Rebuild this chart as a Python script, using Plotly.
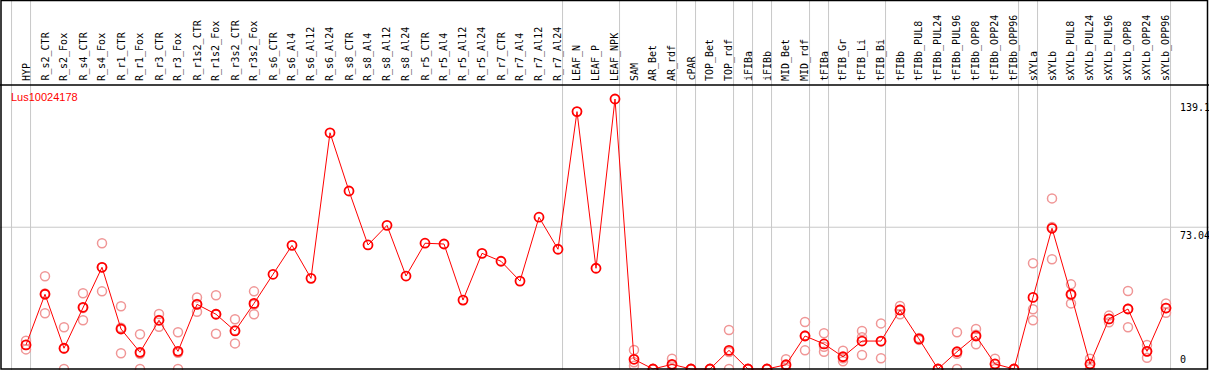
import plotly.graph_objects as go

W, H = 1209, 370

categories = [
    "HYP", "R_s2_CTR", "R_s2_Fox", "R_s4_CTR", "R_s4_Fox", "R_r1_CTR", "R_r1_Fox",
    "R_r3_CTR", "R_r3_Fox", "R_r1s2_CTR", "R_r1s2_Fox", "R_r3s2_CTR", "R_r3s2_Fox",
    "R_s6_CTR", "R_s6_Al4", "R_s6_Al12", "R_s6_Al24", "R_s8_CTR", "R_s8_Al4",
    "R_s8_Al12", "R_s8_Al24", "R_r5_CTR", "R_r5_Al4", "R_r5_Al12", "R_r5_Al24",
    "R_r7_CTR", "R_r7_Al4", "R_r7_Al12", "R_r7_Al24", "LEAF_N", "LEAF_P", "LEAF_NPK",
    "SAM", "AR_Bet", "AR_rdf", "cPAR", "TOP_Bet", "TOP_rdf", "iFIBa", "iFIBb",
    "MID_Bet", "MID_rdf", "tFIBa", "tFIB_Gr", "tFIB_Li", "tFIB_Bi", "tFIBb",
    "tFIBb_PUL8", "tFIBb_PUL24", "tFIBb_PUL96", "tFIBb_OPP8", "tFIBb_OPP24",
    "tFIBb_OPP96", "sXYLa", "sXYLb", "sXYLb_PUL8", "sXYLb_PUL24", "sXYLb_PUL96",
    "sXYLb_OPP8", "sXYLb_OPP24", "sXYLb_OPP96",
]

mean_values = [
    12.4, 38.5, 10.7, 31.8, 52.4, 20.6, 8.6, 25.1, 9.1, 33.3, 28.2, 19.6, 33.8,
    48.8, 63.7, 46.7, 121.7, 91.7, 63.9, 74.0, 47.9, 64.8, 64.4, 35.5, 59.6,
    55.5, 45.3, 78.2, 61.7, 132.6, 51.9, 139.1,
    5.0, 0.0, 2.4, 0.0, 0.0, 9.6, 0.0, 0.0, 2.2, 17.0, 12.9, 6.3, 14.4, 14.4,
    30.4, 15.5, 0.0, 8.9, 17.0, 2.6, 0.0, 36.9, 72.5, 38.5, 2.6, 25.8, 30.9,
    9.1, 31.4,
]

N = None
rep1 = [14.6, 47.8, 21.5, 39.0, 64.8, 32.3, 17.9, 28.3, 18.9, 36.9, 38.0, 25.6, 40.0,
        N, N, N, N, N, N, N, N, N, N, N, N, N, N, N, N, N, N, N,
        9.8, 0.0, 5.3, 0.0, 0.0, 20.1, 0.0, 0.0, 5.0, 24.2, 18.4, 9.4, 19.6, 23.5,
        32.5, 16.0, 0.0, 18.9, 20.6, 5.3, 0.0, 54.5, 87.9, 43.6, 5.3, 27.5, 40.2,
        12.4, 33.8]
rep2 = [10.1, 28.7, 0.0, 25.1, 40.0, 8.1, 0.0, 21.8, 0.0, 29.5, 18.2, 13.2, 28.2,
        N, N, N, N, N, N, N, N, N, N, N, N, N, N, N, N, N, N, N,
        1.7, 0.0, 0.0, 0.0, 0.0, 0.0, 0.0, 0.0, 0.0, 9.6, 8.9, 4.0, 7.2, 5.5,
        28.2, 15.0, 0.0, 0.0, 12.7, 0.0, 0.0, 30.8, 56.5, 33.8, 0.0, 24.1, 21.5,
        5.8, 29.0]
rep3 = [12.4, 38.9, 10.5, 31.4, 52.4, 21.3, 7.9, 25.2, 8.4, 33.5, 28.4, 20.0, 33.2,
        N, N, N, N, N, N, N, N, N, N, N, N, N, N, N, N, N, N, N,
        3.5, 0.0, 1.9, 0.0, 0.0, 8.7, 0.0, 0.0, 1.6, 17.2, 11.4, 5.5, 16.4, 14.2,
        30.5, 15.5, 0.0, 7.8, 17.7, 2.5, 0.0, 25.1, 73.1, 38.0, 2.5, 25.8, 31.0,
        9.1, 31.4]

# indices of the last category in each group (-1 = left edge)
group_ends = [-1, 0, 28, 31, 34, 35, 37, 38, 39, 41, 42, 45, 52, 53, 60]

gene_name = "Lus10024178"
y_ticks = [139.1, 73.04, 0]
y_tick_text = ["139.1", "73.04", "0"]

# pixel geometry
x_first, x_step = 26, 19
y_zero, y_scale = 369, 1.941
x0 = -x_first / x_step
x1 = x0 + W / x_step
yr0 = -(H - y_zero) / y_scale
yr1 = y_zero / y_scale

xs = list(range(len(categories)))

fig = go.Figure()

rep_style = dict(symbol="circle-open", size=9, color="rgb(240,150,150)", line=dict(width=1.5))
for rep in (rep1, rep2, rep3):
    fig.add_trace(go.Scatter(x=xs, y=rep, mode="markers", marker=rep_style,
                             showlegend=False, hoverinfo="skip", cliponaxis=True))

fig.add_trace(go.Scatter(
    x=xs, y=mean_values, mode="lines+markers",
    line=dict(color="#ff0000", width=1),
    marker=dict(symbol="circle-open", size=9, color="#ff0000", line=dict(width=1.8)),
    showlegend=False, cliponaxis=True,
))

shapes = []
for g in group_ends:
    shapes.append(dict(type="line", xref="x", yref="paper", x0=g + 0.24, x1=g + 0.24,
                       y0=0, y1=1, line=dict(color="#c8c8c8", width=1), layer="below"))
shapes.append(dict(type="line", xref="paper", yref="y", x0=0, x1=1, y0=73.04, y1=73.04,
                   line=dict(color="#c8c8c8", width=1), layer="below"))
# label area separator
shapes.append(dict(type="line", xref="paper", yref="paper", x0=0, x1=1,
                   y0=1 - 85 / H, y1=1 - 85 / H, line=dict(color="black", width=1.5)))
# outer frame
shapes.append(dict(type="rect", xref="paper", yref="paper", x0=1 / W, x1=1 - 1.5 / W,
                   y0=1 / H, y1=1 - 0.5 / H, line=dict(color="black", width=1.5)))

annotations = []
for i, c in enumerate(categories):
    annotations.append(dict(x=i, xref="x", y=1 - 83 / H, yref="paper", text=c,
                            textangle=-90, showarrow=False, xanchor="center",
                            yanchor="bottom",
                            font=dict(family="DejaVu Sans Mono", size=10, color="black")))
annotations.append(dict(x=9 / W, xref="paper", y=1 - 97.5 / H, yref="paper", text=gene_name,
                        showarrow=False, xanchor="left", yanchor="middle",
                        font=dict(family="Liberation Sans", size=11, color="#ff0000")))
for v, t in zip(y_ticks, y_tick_text):
    if v == 0:
        annotations.append(dict(x=1178 / W, xref="paper", y=v, yref="y", text=t,
                                showarrow=False, xanchor="left", yanchor="bottom", yshift=2,
                                font=dict(family="DejaVu Sans Mono", size=10, color="black")))
    else:
        annotations.append(dict(x=1178 / W, xref="paper", y=v, yref="y", text=t,
                                showarrow=False, xanchor="left", yanchor="top", yshift=-1,
                                font=dict(family="DejaVu Sans Mono", size=10, color="black")))

fig.update_layout(
    width=W, height=H, margin=dict(l=0, r=0, t=0, b=0),
    paper_bgcolor="white", plot_bgcolor="white",
    xaxis=dict(range=[x0, x1], showgrid=False, zeroline=False, showticklabels=False,
               domain=[0, 1], fixedrange=True),
    yaxis=dict(range=[yr0, yr1], showgrid=False, zeroline=False, showticklabels=False,
               domain=[0, 1], fixedrange=True),
    shapes=shapes, annotations=annotations, showlegend=False,
)

fig.write_html("out.html", config={"displayModeBar": False},
               post_script="document.body.style.margin='0px';document.body.style.overflow='hidden';")
